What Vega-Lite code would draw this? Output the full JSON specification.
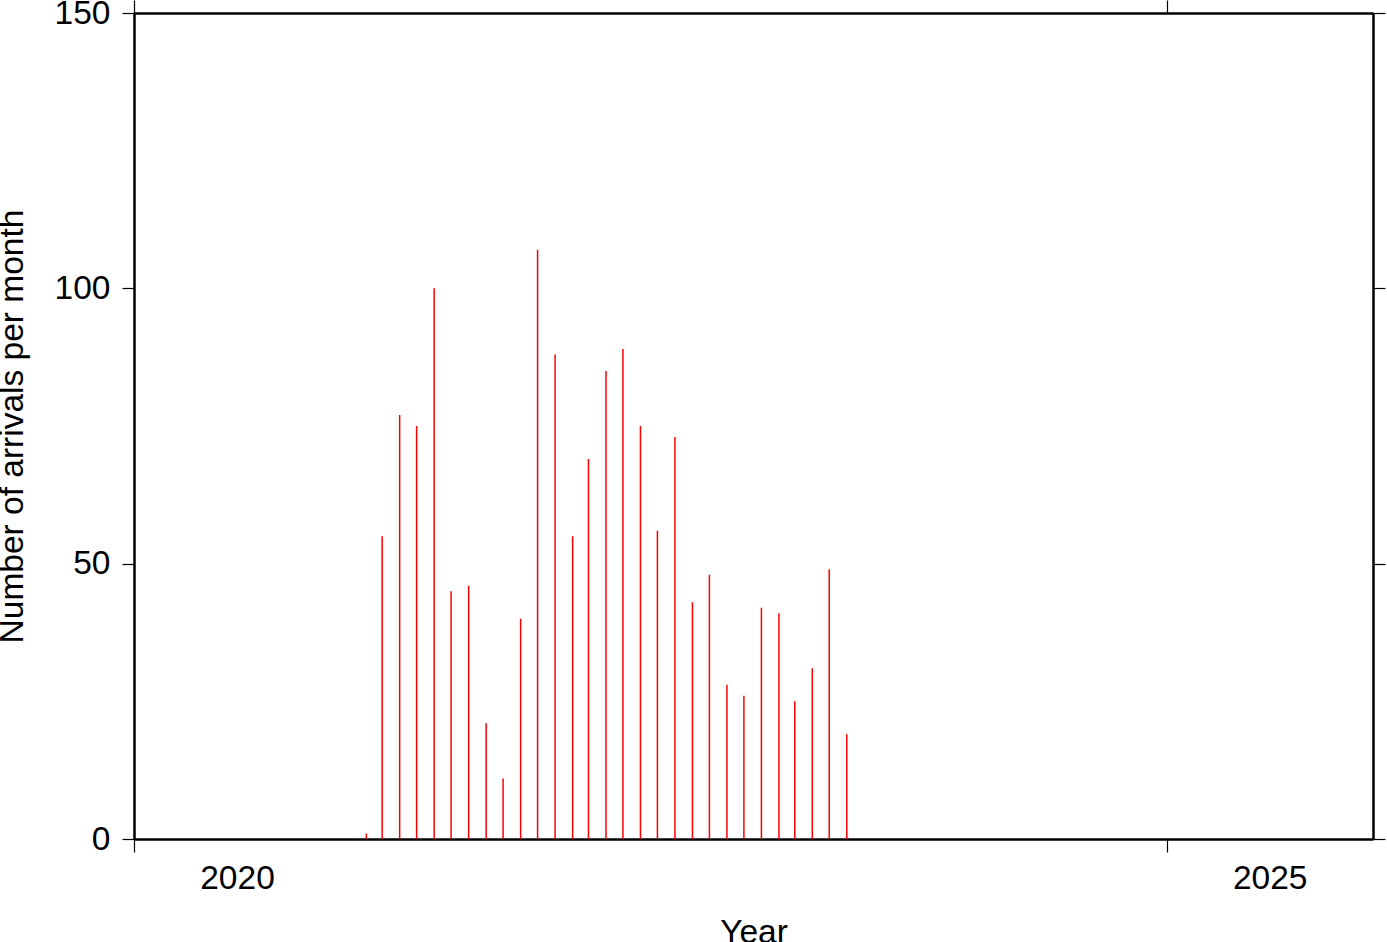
{
  "$schema": "https://vega.github.io/schema/vega-lite/v6.json",
  "width": 1239,
  "height": 826,
  "autosize": {"type": "none"},
  "padding": {"left": 134, "top": 13, "right": 14, "bottom": 103},
  "background": "white",
  "config": {
    "view": {"stroke": null},
    "font": "Liberation Sans",
    "axis": {
      "labelFont": "Liberation Sans",
      "titleFont": "Liberation Sans",
      "labelFontSize": 33.5,
      "titleFontSize": 33.5,
      "titleFontWeight": "normal",
      "labelColor": "black",
      "titleColor": "black",
      "domainColor": "black",
      "domainWidth": 2.5,
      "tickColor": "black",
      "tickWidth": 1.2,
      "grid": false
    }
  },
  "data": {
    "values": [
      {"month": "2021-02-15", "count": 1},
      {"month": "2021-03-15", "count": 55},
      {"month": "2021-04-15", "count": 77},
      {"month": "2021-05-15", "count": 75},
      {"month": "2021-06-15", "count": 100},
      {"month": "2021-07-15", "count": 45},
      {"month": "2021-08-15", "count": 46},
      {"month": "2021-09-15", "count": 21},
      {"month": "2021-10-15", "count": 11},
      {"month": "2021-11-15", "count": 40},
      {"month": "2021-12-15", "count": 107},
      {"month": "2022-01-15", "count": 88},
      {"month": "2022-02-15", "count": 55},
      {"month": "2022-03-15", "count": 69},
      {"month": "2022-04-15", "count": 85},
      {"month": "2022-05-15", "count": 89},
      {"month": "2022-06-15", "count": 75},
      {"month": "2022-07-15", "count": 56},
      {"month": "2022-08-15", "count": 73},
      {"month": "2022-09-15", "count": 43},
      {"month": "2022-10-15", "count": 48},
      {"month": "2022-11-15", "count": 28},
      {"month": "2022-12-15", "count": 26},
      {"month": "2023-01-15", "count": 42},
      {"month": "2023-02-15", "count": 41},
      {"month": "2023-03-15", "count": 25},
      {"month": "2023-04-15", "count": 31},
      {"month": "2023-05-15", "count": 49},
      {"month": "2023-06-15", "count": 19}
    ]
  },
  "layer": [
    {
      "mark": {"type": "rule", "color": "#ff0000", "strokeWidth": 1.5},
      "encoding": {
        "x": {
          "field": "month",
          "type": "temporal",
          "scale": {"type": "utc", "domain": [{"year": 2020, "month": 1, "date": 1, "utc": true}, {"year": 2026, "month": 1, "date": 1, "utc": true}]},
          "axis": {
            "orient": "bottom",
            "title": "Year",
            "values": [{"year": 2020, "month": 1, "date": 1, "utc": true}, {"year": 2025, "month": 1, "date": 1, "utc": true}],
            "format": "%Y",
            "labelOffset": 103,
            "tickSize": 13,
            "labelPadding": 10,
            "titlePadding": 22,
            "labelFlush": false,
            "labelOverlap": false
          }
        },
        "y": {
          "field": "count",
          "type": "quantitative",
          "scale": {"domain": [0, 150], "nice": false},
          "axis": {
            "orient": "left",
            "title": "Number of arrivals per month",
            "values": [0, 50, 100, 150],
            "tickSize": 12,
            "labelPadding": 12,
            "titlePadding": 25,
            "labelFlush": false,
            "labelOverlap": false
          }
        },
        "y2": {"datum": 0}
      }
    },
    {
      "mark": {"type": "rule", "color": "#ff0000", "strokeWidth": 1.5, "opacity": 0},
      "encoding": {
        "x": {
          "field": "month",
          "type": "temporal",
          "scale": {"type": "utc", "domain": [{"year": 2020, "month": 1, "date": 1, "utc": true}, {"year": 2026, "month": 1, "date": 1, "utc": true}]},
          "axis": {
            "orient": "top",
            "title": null,
            "labels": false,
            "values": [{"year": 2020, "month": 1, "date": 1, "utc": true}, {"year": 2025, "month": 1, "date": 1, "utc": true}],
            "tickSize": 13
          }
        },
        "y": {
          "field": "count",
          "type": "quantitative",
          "scale": {"domain": [0, 150], "nice": false},
          "axis": {
            "orient": "right",
            "title": null,
            "labels": false,
            "values": [0, 50, 100, 150],
            "tickSize": 12
          }
        },
        "y2": {"datum": 0}
      }
    }
  ],
  "resolve": {"axis": {"x": "independent", "y": "independent"}}
}
